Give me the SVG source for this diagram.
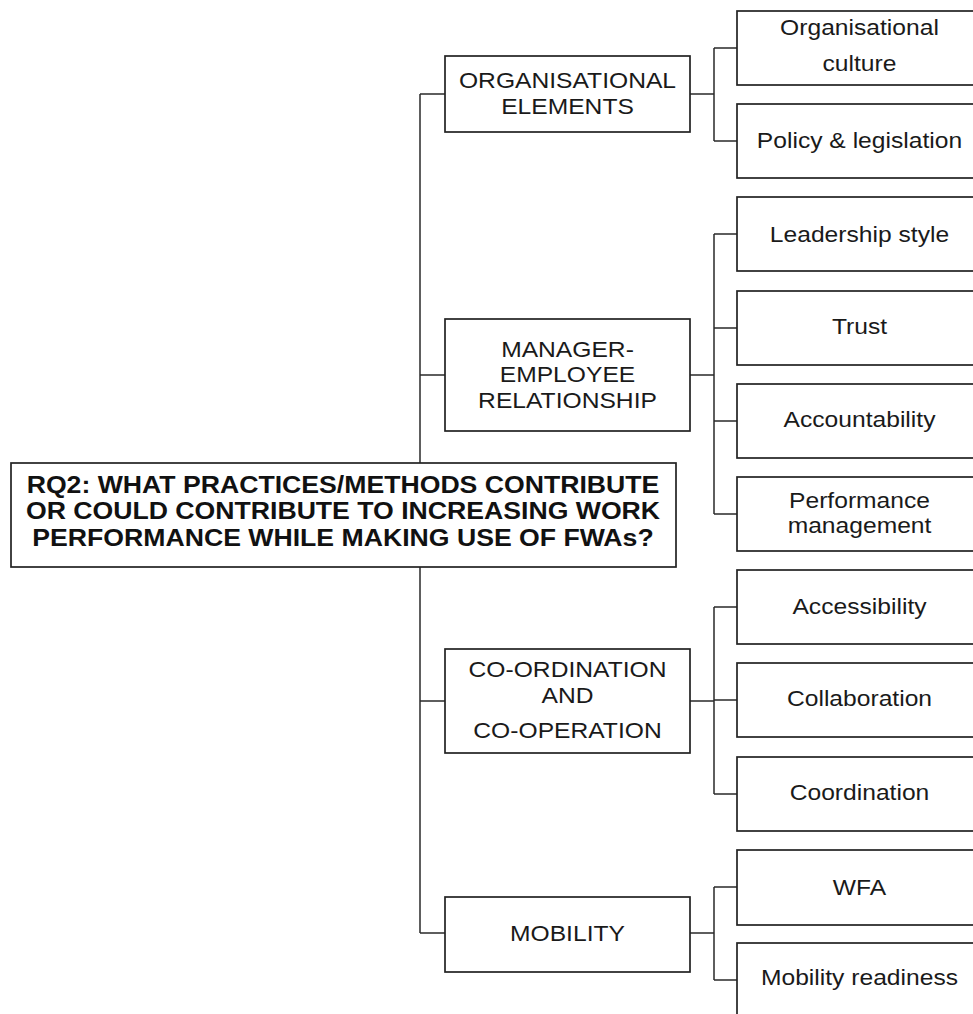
<svg xmlns="http://www.w3.org/2000/svg" width="973" height="1014" viewBox="0 0 973 1014">
<style>
.box{fill:#fff;stroke:#222;stroke-width:1.7}
.ln{fill:none;stroke:#2a2a2a;stroke-width:1.5}
.t{font-family:"Liberation Sans",Arial,sans-serif;font-size:22px;fill:#1a1a1a;text-anchor:middle}
.r{font-family:"Liberation Sans",Arial,sans-serif;font-size:24px;font-weight:bold;fill:#111;text-anchor:middle}
</style>
<rect width="973" height="1014" fill="#fff"/>
<g id="connectors">
<path class="ln" d="M420,94 V933 M420,94 H445 M420,375 H445 M420,701 H445 M420,933 H445"/>
<path class="ln" d="M690,94 H714 M714,48 V141 M714,48 H737 M714,141 H737"/>
<path class="ln" d="M690,375 H714 M714,234 V514 M714,234 H737 M714,328 H737 M714,421 H737 M714,514 H737"/>
<path class="ln" d="M690,701 H714 M714,607 V794 M714,607 H737 M714,700 H737 M714,794 H737"/>
<path class="ln" d="M690,933 H714 M714,887 V980 M714,887 H737 M714,980 H737"/>
</g>
<g id="root">
<rect class="box" x="11" y="463" width="665" height="104"/>
<text class="r" transform="translate(343,493) scale(1.11,1)"><tspan x="0" y="0">RQ2: WHAT PRACTICES/METHODS CONTRIBUTE</tspan><tspan x="0" y="26.5">OR COULD CONTRIBUTE TO INCREASING WORK</tspan><tspan x="0" y="53">PERFORMANCE WHILE MAKING USE OF FWAs?</tspan></text>
</g>
<g id="org-elements">
<rect class="box" x="445" y="56" width="245" height="76"/>
<text class="t" transform="translate(567.5,88) scale(1.12,1)"><tspan x="0" y="0">ORGANISATIONAL</tspan><tspan x="0" y="26">ELEMENTS</tspan></text>
</g>
<g id="manager-employee">
<rect class="box" x="445" y="319" width="245" height="112"/>
<text class="t" transform="translate(567.5,357) scale(1.12,1)"><tspan x="0" y="0">MANAGER-</tspan><tspan x="0" y="25.5">EMPLOYEE</tspan><tspan x="0" y="51">RELATIONSHIP</tspan></text>
</g>
<g id="coordination-cooperation">
<rect class="box" x="445" y="649" width="245" height="104"/>
<text class="t" transform="translate(567.5,677) scale(1.12,1)"><tspan x="0" y="0">CO-ORDINATION</tspan><tspan x="0" y="26">AND</tspan><tspan x="0" y="61">CO-OPERATION</tspan></text>
</g>
<g id="mobility">
<rect class="box" x="445" y="897" width="245" height="75"/>
<text class="t" transform="translate(567.5,941) scale(1.12,1)">MOBILITY</text>
</g>
<g id="org-culture">
<rect class="box" x="737" y="11" width="245" height="74"/>
<text class="t" transform="translate(859.5,35) scale(1.12,1)"><tspan x="0" y="0">Organisational</tspan><tspan x="0" y="36">culture</tspan></text>
</g>
<g id="policy">
<rect class="box" x="737" y="104" width="245" height="74"/>
<text class="t" transform="translate(859.5,148) scale(1.12,1)">Policy &amp; legislation</text>
</g>
<g id="leadership">
<rect class="box" x="737" y="197" width="245" height="74"/>
<text class="t" transform="translate(859.5,242) scale(1.12,1)">Leadership style</text>
</g>
<g id="trust">
<rect class="box" x="737" y="291" width="245" height="74"/>
<text class="t" transform="translate(859.5,334) scale(1.12,1)">Trust</text>
</g>
<g id="accountability">
<rect class="box" x="737" y="384" width="245" height="74"/>
<text class="t" transform="translate(859.5,427) scale(1.12,1)">Accountability</text>
</g>
<g id="performance">
<rect class="box" x="737" y="477" width="245" height="74"/>
<text class="t" transform="translate(859.5,508) scale(1.12,1)"><tspan x="0" y="0">Performance</tspan><tspan x="0" y="25">management</tspan></text>
</g>
<g id="accessibility">
<rect class="box" x="737" y="570" width="245" height="74"/>
<text class="t" transform="translate(859.5,614) scale(1.12,1)">Accessibility</text>
</g>
<g id="collaboration">
<rect class="box" x="737" y="663" width="245" height="74"/>
<text class="t" transform="translate(859.5,706) scale(1.12,1)">Collaboration</text>
</g>
<g id="coordination">
<rect class="box" x="737" y="757" width="245" height="74"/>
<text class="t" transform="translate(859.5,800) scale(1.12,1)">Coordination</text>
</g>
<g id="wfa">
<rect class="box" x="737" y="850" width="245" height="75"/>
<text class="t" transform="translate(859.5,895) scale(1.12,1)">WFA</text>
</g>
<g id="mobility-readiness">
<rect class="box" x="737" y="943" width="245" height="80"/>
<text class="t" transform="translate(859.5,985) scale(1.12,1)">Mobility readiness</text>
</g>
</svg>
